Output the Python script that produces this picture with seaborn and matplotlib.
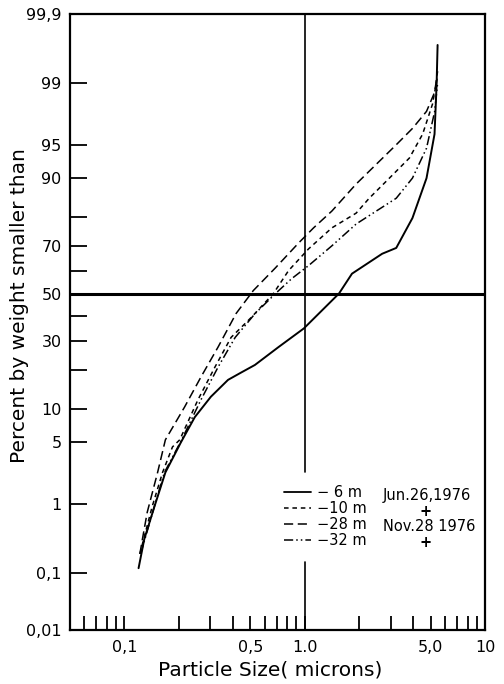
import numpy as np
import pandas as pd
import matplotlib
matplotlib.use("Agg")
import matplotlib.pyplot as plt
from matplotlib.lines import Line2D
import seaborn as sns
from statistics import NormalDist

# ---------------- data ----------------
depths = ["− 6 m", "−10 m", "−28 m", "−32 m"]
dates = ["Jun.26,1976", "+", "Nov.28 1976", "+"]

size_6m = [0.120, 0.129, 0.147, 0.169, 0.206, 0.246, 0.302, 0.376, 0.440, 0.530, 0.716,
           0.99, 1.55, 1.83, 2.69, 3.22, 3.96, 4.74, 5.25, 5.39, 5.46]
pct_6m = [0.12, 0.33, 0.93, 2.4, 5.0, 8.6, 12.7, 17.0, 19.0, 21.5, 27.7,
          35.0, 50.0, 58.7, 67.0, 69.3, 79.8, 89.9, 96.1, 98.95, 99.7]

size_10m = [0.122, 0.128, 0.143, 0.163, 0.185, 0.203, 0.256, 0.318, 0.391, 0.506,
            0.671, 0.814, 1.05, 1.415, 1.93, 2.28, 2.95, 3.81, 4.51, 5.12, 5.46]
pct_10m = [0.2, 0.33, 0.94, 2.4, 4.5, 5.3, 12.0, 20.8, 31.4, 39.6,
           50.0, 60.0, 68.9, 76.6, 81.3, 85.4, 89.9, 93.3, 96.1, 98.2, 99.2]

size_28m = [0.122, 0.126, 0.134, 0.153, 0.169, 0.216, 0.266, 0.331, 0.417, 0.519,
            0.689, 0.926, 1.12, 1.415, 1.93, 2.37, 3.22, 3.96, 4.74, 5.26, 5.46]
pct_28m = [0.2, 0.33, 0.78, 2.4, 5.3, 10.5, 17.8, 27.7, 41.3, 51.3,
           61.2, 71.2, 76.6, 81.9, 88.7, 91.7, 95.0, 96.6, 97.8, 98.7, 99.3]

size_32m = [0.123, 0.130, 0.147, 0.167, 0.208, 0.266, 0.331, 0.412, 0.532, 0.689,
            0.846, 1.05, 1.415, 1.93, 3.22, 3.96, 4.74, 5.26, 5.46]
pct_32m = [0.2, 0.33, 0.94, 2.4, 5.3, 12.0, 20.8, 31.4, 41.3, 50.0,
           56.5, 62.1, 70.1, 77.9, 85.4, 89.9, 94.6, 97.8, 99.0]

y_ticks = [0.01, 0.1, 1, 5, 10, 20, 30, 40, 50, 60, 70, 80, 90, 95, 99, 99.9]
y_labels = ["0,01", "0,1", "1", "5", "10", "", "30", "", "50", "", "70", "", "90", "95", "99", "99,9"]
x_major = [0.1, 0.5, 1.0, 5.0, 10.0]
x_major_labels = ["0,1", "0,5", "1.0", "5,0", "10"]
x_minor = [0.06, 0.07, 0.08, 0.09, 0.2, 0.3, 0.4, 0.6, 0.7, 0.8, 0.9,
           2, 3, 4, 6, 7, 8, 9]

frames = []
for d, s, p in zip(depths, [size_6m, size_10m, size_28m, size_32m],
                   [pct_6m, pct_10m, pct_28m, pct_32m]):
    frames.append(pd.DataFrame({"size": s, "pct": p, "depth": d}))
df = pd.concat(frames, ignore_index=True)

# ---------------- probability scale ----------------
_nd = NormalDist()


def prob_fwd(p):
    p = np.asarray(p, dtype=float)
    out = np.full(p.shape, np.nan)
    m = np.isfinite(p)
    q = np.clip(p[m] / 100.0, 1e-9, 1 - 1e-9)
    out[m] = [_nd.inv_cdf(v) for v in q]
    return out


def prob_inv(z):
    z = np.asarray(z, dtype=float)
    out = np.full(z.shape, np.nan)
    m = ~np.isnan(z)
    out[m] = [_nd.cdf(v) * 100.0 for v in z[m]]
    return out


# ---------------- plot ----------------
sns.set_style("ticks")
plt.rcParams["font.family"] = ["DejaVu Sans"]
plt.rcParams["text.color"] = "black"
plt.rcParams["axes.labelcolor"] = "black"
plt.rcParams["xtick.color"] = "black"
plt.rcParams["ytick.color"] = "black"

fig = plt.figure(figsize=(5.04, 6.84), dpi=100)
ax = fig.add_axes([70 / 504, 54 / 684, 415 / 504, 616 / 684])
ax.set_xscale("log")
ax.set_yscale("function", functions=(prob_fwd, prob_inv))

dash_map = {"− 6 m": "", "−10 m": (3, 2.5), "−28 m": (6, 3), "−32 m": (6, 2, 1, 2, 1, 2)}
sns.lineplot(data=df, x="size", y="pct", style="depth", style_order=depths,
             dashes=dash_map, color="black", sort=False, estimator=None,
             linewidth=1.1, legend=False, ax=ax)
# solid curve a bit heavier, as in the original
ax.lines[0].set_linewidth(1.4)

ax.set_xlim(0.05, 10)
ax.set_ylim(0.01, 99.9)

# reference lines
ax.axhline(50, color="black", lw=2.2, zorder=1)
ax.axvline(1.0, ymin=0.0, ymax=0.110, color="black", lw=1.2, zorder=1)
ax.axvline(1.0, ymin=0.256, ymax=1.0, color="black", lw=1.2, zorder=1)

# ticks
ax.set_yticks(y_ticks)
ax.set_yticklabels(y_labels)
ax.yaxis.set_minor_locator(matplotlib.ticker.NullLocator())
ax.set_xticks(x_major)
ax.set_xticklabels(x_major_labels)
ax.set_xticks(x_minor, minor=True)
ax.xaxis.set_minor_formatter(matplotlib.ticker.NullFormatter())
ax.tick_params(axis="both", which="both", direction="in", colors="black",
               labelsize=11.5, width=1.3)
ax.tick_params(axis="y", length=12, pad=6)
ax.tick_params(axis="x", which="both", length=10, pad=7)
for sp in ax.spines.values():
    sp.set_linewidth(1.6)
    sp.set_color("black")

ax.set_xlabel("Particle Size( microns)", fontsize=14.5, color="black")
ax.set_ylabel("Percent by weight smaller than", fontsize=14.5, color="black")
ax.xaxis.set_label_coords(0.482, -0.050)
ax.yaxis.set_label_coords(-0.098, 0.526)

# legend
handles = [Line2D([], [], color="black", lw=1.3, linestyle="-"),
           Line2D([], [], color="black", lw=1.1, dashes=(3, 2.5)),
           Line2D([], [], color="black", lw=1.1, dashes=(6, 3)),
           Line2D([], [], color="black", lw=1.1, dashes=(6, 2, 1, 2, 1, 2))]
leg = ax.legend(handles, depths, loc="upper left", bbox_to_anchor=(0.515, 0.236),
                frameon=False, fontsize=10.5, handlelength=1.9, handletextpad=0.4,
                labelspacing=0.08, borderpad=0, borderaxespad=0)
for t in leg.get_texts():
    t.set_color("black")
row_y = [0.219, 0.193, 0.168, 0.142]
for yy, t in zip(row_y, dates):
    if t == "+":
        ax.text(0.857, yy, t, transform=ax.transAxes, ha="center", va="center",
                fontsize=10.5, fontweight="bold", color="black")
    else:
        ax.text(0.754, yy, t, transform=ax.transAxes, ha="left", va="center",
                fontsize=10.5, color="black")

fig.savefig("out.png", dpi=100)
